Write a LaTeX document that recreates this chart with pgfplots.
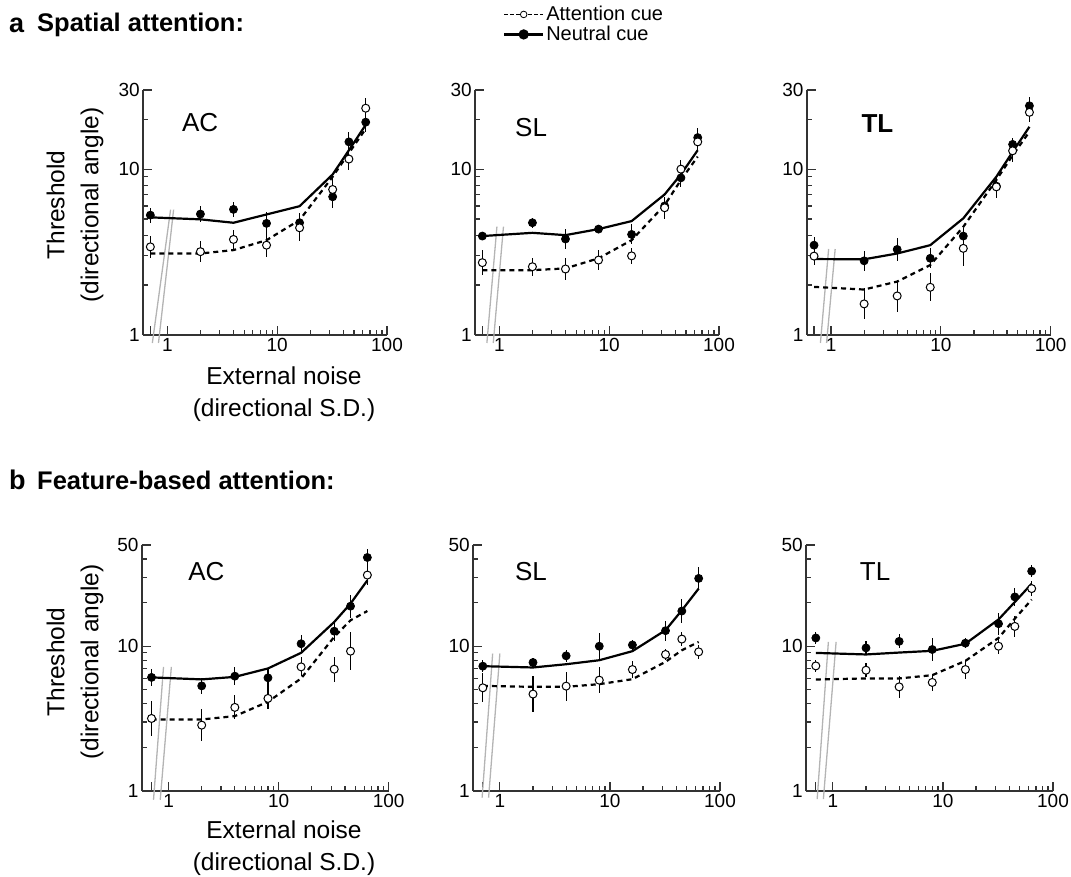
\documentclass[border=0pt]{standalone}
\usepackage{fontspec}
\setmainfont{Liberation Sans}
\usepackage{pgfplots}
\usepackage{pgfplotstable}
\pgfplotsset{compat=1.18}

\pgfplotstableread{
x    nf    nfe    of    ofe    nc    ac
0.7  5.28  0.045  3.40  0.065  5.12  3.10
2    5.36  0.05   3.18  0.063  4.98  3.10
4    5.72  0.045  3.77  0.055  4.75  3.25
8    4.71  0.07   3.48  0.07   5.33  3.73
16   4.75  0.06   4.43  0.08   5.98  4.93
32   6.81  0.065  7.54  0.09   9.29  9.0
45   14.6  0.06   11.5  0.065  13.0  12.5
64   19.2  0.06   23.3  0.06   18.5  17.5
}\dataAAC
\pgfplotstableread{
x    nf    nfe    of    ofe    nc    ac
0.7  3.95  0.025  2.73  0.075  3.95  2.46
2    4.75  0.03   2.58  0.055  4.13  2.46
4    3.79  0.06   2.50  0.065  4.00  2.52
8    4.35  0.025  2.83  0.06   4.35  2.90
16   4.04  0.06   3.00  0.05   4.86  3.73
32   6.0   0.05   5.85  0.065  7.04  6.07
45   8.86  0.055  10.0  0.055  9.3   8.6
64   15.5  0.06   14.6  0.06   13.0  11.9
}\dataASL
\pgfplotstableread{
x    nf    nfe    of    ofe    nc    ac
0.7  3.48  0.05   2.99  0.055  2.87  1.95
2    2.80  0.06   1.54  0.094  2.86  1.88
4    3.28  0.067  1.72  0.095  3.10  2.10
8    2.90  0.06   1.94  0.083  3.48  2.64
16   3.95  0.05   3.33  0.108  5.05  4.49
32   7.9   0.05   7.82  0.065  9.0   8.6
45   14.1  0.04   12.9  0.065  12.7  12.1
64   24.1  0.05   22.0  0.06   18.0  16.8
}\dataATL
\pgfplotstableread{
x    nf    nfe    of    ofe    nc    ac
0.7  6.09  0.057  3.17  0.12   6.09  3.12
2    5.32  0.057  2.85  0.11   5.90  3.12
4    6.21  0.063  3.78  0.083  6.14  3.29
8    6.05  0.07   4.36  0.075  7.02  4.13
16   10.4  0.063  7.20  0.065  9.00  5.99
32   12.7  0.07   6.94  0.086  14.7  11.6
45   18.9  0.08   9.24  0.13   19.7  15.1
64   41.0  0.06   31.0  0.07   28.5  17.5
}\dataBAC
\pgfplotstableread{
x    nf    nfe    of    ofe    nc    ac
0.7  7.28  0.04   5.16  0.10   7.28  5.32
2    7.72  0.03   4.67  0.126  7.13  5.24
4    8.58  0.04   5.30  0.10   7.51  5.24
8    10.0  0.088  5.83  0.09   8.00  5.47
16   10.2  0.035  6.90  0.06   9.24  5.92
32   12.8  0.07   8.77  0.04   12.9  7.80
45   17.5  0.08   11.2  0.046  17.7  9.38
64   29.4  0.08   9.14  0.046  25.0  10.7
}\dataBSL
\pgfplotstableread{
x    nf    nfe    of    ofe    nc    ac
0.7  11.4  0.04   7.31  0.04   8.99  5.89
2    9.73  0.05   6.83  0.05   8.77  5.99
4    10.8  0.048  5.24  0.078  9.04  5.99
8    9.49  0.077  5.62  0.06   9.29  6.31
16   10.5  0.035  6.90  0.065  10.4  7.92
32   14.3  0.075  10.0  0.057  15.3  11.4
45   21.9  0.06   13.7  0.072  20.2  15.5
64   33.0  0.04   25.0  0.05   27.0  21.0
}\dataBTL

\definecolor{axgray}{HTML}{333333}
\definecolor{brkgray}{HTML}{B4B4B4}

\pgfplotsset{
  legend image code/.code={\draw[mark repeat=2,mark phase=2,#1] plot coordinates {(0pt,0pt) (19.5pt,0pt) (39pt,0pt)};},
  every axis/.append style={
    scale only axis,
    axis x line=bottom, axis y line=left,
    axis line style={-, line width=1.8pt, axgray},
    tick align=inside, major tick length=9pt, minor tick length=5pt,
    tick style={axgray, line width=1.2pt},
    xtick={0.7,1,10,100},
    xticklabels={,\textnormal{1},\textnormal{10},\textnormal{100}},
    minor xtick={2,3,4,5,6,7,8,9,20,30,40,50,60,70,80,90},
    clip=false,
    tick label style={font=\fontsize{19}{19}\selectfont},
    xticklabel style={inner sep=2pt, yshift=-1pt},
    yticklabel style={inner sep=3pt},
  },
}

\newcommand{\panelplots}[1]{%
  \addplot[black, line width=2.2pt, no marks] table[x=x,y=nc]{#1};
  \addplot[black, line width=2.2pt, dash pattern=on 5pt off 4pt, no marks] table[x=x,y=ac]{#1};
  \addplot[only marks, mark=*, mark size=4pt,
     mark options={fill=black, draw=black, line width=0.8pt},
     error bars/y dir=both, error bars/y explicit, error bars/error mark=none,
     error bars/error bar style={line width=1.1pt, black}]
     table[x=x,y=nf,
     y error plus expr={\thisrow{nf}*(10^(\thisrow{nfe})-1)},
     y error minus expr={\thisrow{nf}*(1-10^(-\thisrow{nfe}))}]{#1};
  \addplot[only marks, mark=*, mark size=4pt,
     mark options={fill=white, draw=black, line width=1pt},
     error bars/y dir=both, error bars/y explicit, error bars/error mark=none,
     error bars/error bar style={line width=1.1pt, black}]
     table[x=x,y=of,
     y error plus expr={\thisrow{of}*(10^(\thisrow{ofe})-1)},
     y error minus expr={\thisrow{of}*(1-10^(-\thisrow{ofe}))}]{#1};
}
\newcommand{\brklines}[4]{%
  \addplot[brkgray, line width=1.3pt, no marks, forget plot] coordinates {#1 #2};
  \addplot[brkgray, line width=1.3pt, no marks, forget plot] coordinates {#3 #4};
}

\begin{document}
\begin{tikzpicture}
\useasboundingbox (0pt,0pt) rectangle (1071pt,876pt);

\node[anchor=west, font=\bfseries\fontsize{27}{27}\selectfont, inner sep=0pt] at (9pt,851pt) {a};
\node[anchor=west, font=\bfseries\fontsize{25.5}{25.5}\selectfont, inner sep=0pt] at (37pt,851pt) {Spatial attention:};
\node[anchor=west, font=\bfseries\fontsize{27}{27}\selectfont, inner sep=0pt] at (9pt,396pt) {b};
\node[anchor=west, font=\bfseries\fontsize{25.5}{25.5}\selectfont, inner sep=0pt] at (37pt,396pt) {Feature-based attention:};

\node[rotate=90, align=center, font=\fontsize{24.5}{34}\selectfont] at (75pt,671pt) {Threshold\\(directional angle)};
\node[rotate=90, align=center, font=\fontsize{24.5}{34}\selectfont] at (75pt,214pt) {Threshold\\(directional angle)};
\node[align=center, font=\fontsize{24.5}{32}\selectfont] at (284pt,482pt) {External noise\\(directional S.D.)};
\node[align=center, font=\fontsize{24.5}{32}\selectfont] at (284pt,28pt) {External noise\\(directional S.D.)};

% ---------- a: AC
\begin{axis}[xmode=log, ymode=log, width=244pt, height=245pt,
  xmin=0.6, xmax=100, ymin=1, ymax=30,
  ytick={1,10,30}, yticklabels={\textnormal{1},\textnormal{10},\textnormal{30}}, minor ytick={2,3,4,5,6,7,8,9,20},
  at={(143pt,541pt)}, anchor=south west,
  legend style={at={(1.475,1.35)}, anchor=north west, draw=none, fill=none,
    font=\fontsize{20}{20}\selectfont, row sep=0pt, inner sep=0pt},
  legend cell align=left]
  \addlegendimage{black, line width=1.3pt, dash pattern=on 3.5pt off 2.5pt, mark=*, mark size=3.3pt, mark options={solid, fill=white, line width=0.8pt}}
  \addlegendentry{Attention cue}
  \addlegendimage{black, line width=2.2pt, mark=*, mark size=4pt}
  \addlegendentry{Neutral cue}
  \brklines{(0.73,0.895)}{(1.07,5.7)}{(0.83,0.895)}{(1.14,5.7)}
  \panelplots{\dataAAC}
  \node[font=\fontsize{26}{26}\selectfont] at (rel axis cs:0.234,0.869) {AC};
\end{axis}

% ---------- a: SL
\begin{axis}[xmode=log, ymode=log, width=244pt, height=245pt,
  xmin=0.6, xmax=100, ymin=1, ymax=30,
  ytick={1,10,30}, yticklabels={\textnormal{1},\textnormal{10},\textnormal{30}}, minor ytick={2,3,4,5,6,7,8,9,20},
  at={(475pt,541pt)}, anchor=south west]
  \brklines{(0.77,0.895)}{(0.95,4.5)}{(0.88,0.895)}{(1.09,4.5)}
  \panelplots{\dataASL}
  \node[font=\fontsize{26}{26}\selectfont] at (rel axis cs:0.23,0.845) {SL};
\end{axis}

% ---------- a: TL
\begin{axis}[xmode=log, ymode=log, width=244pt, height=245pt,
  xmin=0.6, xmax=100, ymin=1, ymax=30,
  ytick={1,10,30}, yticklabels={\textnormal{1},\textnormal{10},\textnormal{30}}, minor ytick={2,3,4,5,6,7,8,9,20},
  at={(806.7pt,541pt)}, anchor=south west]
  \brklines{(0.80,0.895)}{(0.95,3.3)}{(0.91,0.895)}{(1.09,3.3)}
  \panelplots{\dataATL}
  \node[font=\bfseries\fontsize{26}{26}\selectfont] at (rel axis cs:0.29,0.865) {TL};
\end{axis}

% ---------- b: AC
\begin{axis}[xmode=log, ymode=log, width=247pt, height=246pt,
  xmin=0.57, xmax=100, ymin=1, ymax=50,
  ytick={1,10,50}, yticklabels={\textnormal{1},\textnormal{10},\textnormal{50}}, minor ytick={2,3,4,5,6,7,8,9,20,30,40},
  at={(141.7pt,85pt)}, anchor=south west]
  \brklines{(0.73,0.87)}{(0.90,7.2)}{(0.84,0.87)}{(1.06,7.2)}
  \panelplots{\dataBAC}
  \node[font=\fontsize{26}{26}\selectfont] at (rel axis cs:0.262,0.893) {AC};
\end{axis}

% ---------- b: SL
\begin{axis}[xmode=log, ymode=log, width=247pt, height=246pt,
  xmin=0.57, xmax=100, ymin=1, ymax=50,
  ytick={1,10,50}, yticklabels={\textnormal{1},\textnormal{10},\textnormal{50}}, minor ytick={2,3,4,5,6,7,8,9,20,30,40},
  at={(473pt,85pt)}, anchor=south west]
  \brklines{(0.69,0.9)}{(0.86,8.9)}{(0.79,0.9)}{(1.0,8.9)}
  \panelplots{\dataBSL}
  \node[font=\fontsize{26}{26}\selectfont] at (rel axis cs:0.235,0.893) {SL};
\end{axis}

% ---------- b: TL
\begin{axis}[xmode=log, ymode=log, width=247pt, height=246pt,
  xmin=0.57, xmax=100, ymin=1, ymax=50,
  ytick={1,10,50}, yticklabels={\textnormal{1},\textnormal{10},\textnormal{50}}, minor ytick={2,3,4,5,6,7,8,9,20,30,40},
  at={(806pt,85pt)}, anchor=south west]
  \brklines{(0.72,0.88)}{(0.91,10.7)}{(0.82,0.88)}{(1.07,10.7)}
  \panelplots{\dataBTL}
  \node[font=\fontsize{26}{26}\selectfont] at (rel axis cs:0.28,0.893) {TL};
\end{axis}
\end{tikzpicture}
\end{document}
